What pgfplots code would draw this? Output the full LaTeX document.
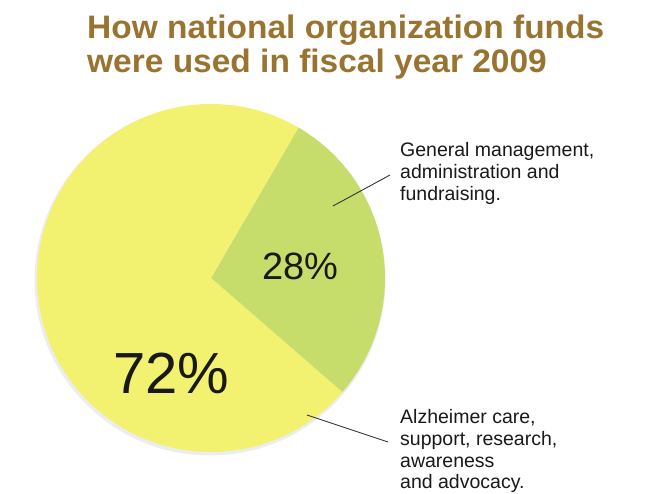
\documentclass[border=0pt]{standalone}
\usepackage{fontspec}
\setmainfont{Liberation Sans}
\newfontfamily\titlefont[FakeStretch=1.03]{Liberation Sans}
\usepackage{pgfplots}
\pgfplotsset{compat=1.18}

\definecolor{titlebrown}{RGB}{152,116,48}
\definecolor{pieyellow}{RGB}{242,241,112}
\definecolor{piegreen}{RGB}{198,221,107}
\definecolor{txt}{RGB}{25,25,25}

% shares in percent
\def\shareGen{28}
\def\shareAlz{72}
\def\startAng{-41}

\begin{document}
\begin{tikzpicture}
\begin{axis}[
    width=647pt, height=493pt, scale only axis, hide axis,
    xmin=0, xmax=647, ymin=0, ymax=493, clip=false]

  % soft shadow
  \fill[black!7] (axis cs:210,213) circle[radius=175.5pt];
  % slices
  \fill[piegreen] (axis cs:211,215) -- ++(\startAng:174pt)
     arc[start angle=\startAng, end angle={\startAng+\shareGen*3.6}, radius=174pt] -- cycle;
  \fill[pieyellow] (axis cs:211,215) -- ++({\startAng+\shareGen*3.6}:174pt)
     arc[start angle={\startAng+\shareGen*3.6}, end angle={\startAng+360}, radius=174pt] -- cycle;

  % title
  \node[anchor=base west, inner sep=0, text=titlebrown, font=\titlefont\fontsize{32.5}{34}\selectfont\bfseries]
    at (axis cs:87,454) {How national organization funds};
  \node[anchor=base west, inner sep=0, text=titlebrown, font=\titlefont\fontsize{32.5}{34}\selectfont\bfseries]
    at (axis cs:87,420) {were used in fiscal year 2009};

  % percentages
  \node[anchor=base west, inner sep=0, text=txt, font=\fontsize{38}{40}\selectfont]
    at (axis cs:262,214) {\shareGen\%};
  \node[anchor=base west, inner sep=0, text=txt, font=\fontsize{58}{60}\selectfont]
    at (axis cs:113,100) {\shareAlz\%};

  % leader lines
  \draw[black!80, line width=0.9pt] (axis cs:333,287) -- (axis cs:390,318);
  \draw[black!80, line width=0.9pt] (axis cs:307,78) -- (axis cs:388,51);

  % labels
  \begin{scope}[every node/.style={anchor=base west, inner sep=0, text=txt, font=\fontsize{19.5}{22}\selectfont}]
    \node at (axis cs:400,336) {General management,};
    \node at (axis cs:400,314.3) {administration and};
    \node at (axis cs:400,292.6) {fundraising.};
    \node at (axis cs:400,70) {Alzheimer care,};
    \node at (axis cs:400,48) {support, research,};
    \node at (axis cs:400,26) {awareness};
    \node at (axis cs:400,5) {and advocacy.};
  \end{scope}
\end{axis}
\pgfresetboundingbox
\useasboundingbox (0,0) rectangle (647pt,493pt);
\end{tikzpicture}
\end{document}
